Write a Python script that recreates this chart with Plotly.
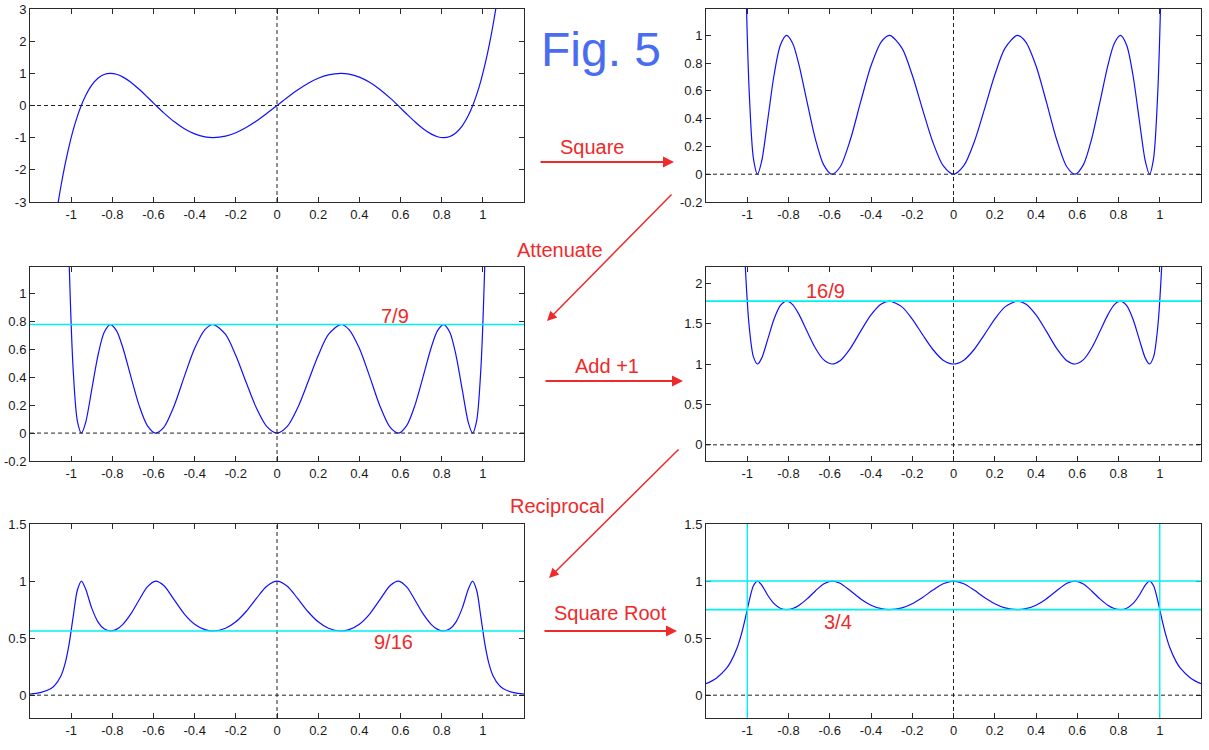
import plotly.graph_objects as go

# ---------------- data ----------------
X = [-1.2, -1.15, -1.1, -1.08, -1.05, -1.03, -1.01, -0.99, -0.97, -0.95, -0.93, -0.9,
     -0.87, -0.84, -0.81, -0.78, -0.75, -0.71, -0.67, -0.63, -0.59, -0.55, -0.5, -0.45,
     -0.4, -0.35, -0.31, -0.25, -0.2, -0.15, -0.1, -0.05, 0,
     0.05, 0.1, 0.15, 0.2, 0.25, 0.31, 0.35, 0.4, 0.45, 0.5, 0.55, 0.59, 0.63, 0.67,
     0.71, 0.75, 0.78, 0.81, 0.84, 0.87, 0.9, 0.93, 0.95, 0.97, 0.99, 1.01, 1.03, 1.05,
     1.08, 1.1, 1.15, 1.2]

# panel 1: original polynomial
Y_POLY = [-11.2483, -7.5142, -4.6482, -3.715, -2.518, -1.8438, -1.2601, -0.7599, -0.3363,
          0.017, 0.3061, 0.6322, 0.8453, 0.9627, 0.9997, 0.9716, 0.8906, 0.7215, 0.505,
          0.263, 0.0137, -0.2278, -0.5, -0.7228, -0.8838, -0.9765, -1.0, -0.9531, -0.8451,
          -0.6837, -0.4802, -0.2475, 0,
          0.2475, 0.4802, 0.6837, 0.8451, 0.9531, 1.0, 0.9765, 0.8838, 0.7228, 0.5, 0.2278,
          -0.0137, -0.263, -0.505, -0.7215, -0.8906, -0.9716, -0.9997, -0.9627, -0.8453,
          -0.6322, -0.3061, -0.017, 0.3363, 0.7599, 1.2601, 1.8438, 2.518, 3.715, 4.6482,
          7.5142, 11.2483]

# panel 2: square
Y_SQUARE = [126.52, 56.46, 21.61, 13.80, 6.3403, 3.3996, 1.5879, 0.5775, 0.1131, 0.0003,
            0.0937, 0.3997, 0.7145, 0.9268, 0.9994, 0.944, 0.7932, 0.5206, 0.255, 0.0692,
            0.0002, 0.0519, 0.25, 0.5224, 0.7811, 0.9536, 1.0, 0.9084, 0.7142, 0.4675,
            0.2306, 0.0613, 0,
            0.0613, 0.2306, 0.4675, 0.7142, 0.9084, 1.0, 0.9536, 0.7811, 0.5224, 0.25,
            0.0519, 0.0002, 0.0692, 0.255, 0.5206, 0.7932, 0.944, 0.9994, 0.9268, 0.7145,
            0.3997, 0.0937, 0.0003, 0.1131, 0.5775, 1.5879, 3.3996, 6.3403, 13.80, 21.61,
            56.46, 126.52]

# panel 3: attenuated
Y_ATTEN = [98.40, 43.91, 16.81, 10.73, 4.9314, 2.6441, 1.235, 0.4491, 0.088, 0.0002, 0.0729,
           0.3109, 0.5558, 0.7208, 0.7773, 0.7342, 0.6169, 0.4049, 0.1984, 0.0538, 0.0002,
           0.0404, 0.1944, 0.4063, 0.6075, 0.7417, 0.7778, 0.7065, 0.5555, 0.3636, 0.1794,
           0.0477, 0,
           0.0477, 0.1794, 0.3636, 0.5555, 0.7065, 0.7778, 0.7417, 0.6075, 0.4063, 0.1944,
           0.0404, 0.0002, 0.0538, 0.1984, 0.4049, 0.6169, 0.7342, 0.7773, 0.7208, 0.5558,
           0.3109, 0.0729, 0.0002, 0.088, 0.4491, 1.235, 2.6441, 4.9314, 10.73, 16.81,
           43.91, 98.40]

# panel 4: add +1
Y_ADD1 = [99.40, 44.91, 17.81, 11.73, 5.9314, 3.6441, 2.235, 1.4491, 1.088, 1.0002, 1.0729,
          1.3109, 1.5558, 1.7208, 1.7773, 1.7342, 1.6169, 1.4049, 1.1984, 1.0538, 1.0002,
          1.0404, 1.1944, 1.4063, 1.6075, 1.7417, 1.7778, 1.7065, 1.5555, 1.3636, 1.1794,
          1.0477, 1,
          1.0477, 1.1794, 1.3636, 1.5555, 1.7065, 1.7778, 1.7417, 1.6075, 1.4063, 1.1944,
          1.0404, 1.0002, 1.0538, 1.1984, 1.4049, 1.6169, 1.7342, 1.7773, 1.7208, 1.5558,
          1.3109, 1.0729, 1.0002, 1.088, 1.4491, 2.235, 3.6441, 5.9314, 11.73, 17.81,
          44.91, 99.40]

# panel 5: reciprocal
Y_RECIP = [0.0101, 0.0223, 0.0562, 0.0853, 0.1686, 0.2744, 0.4474, 0.6901, 0.9191, 0.9998,
           0.9321, 0.7629, 0.6428, 0.5811, 0.5627, 0.5766, 0.6185, 0.7118, 0.8345, 0.949,
           0.9999, 0.9612, 0.8372, 0.7111, 0.6221, 0.5742, 0.5625, 0.586, 0.6429, 0.7334,
           0.8479, 0.9545, 1,
           0.9545, 0.8479, 0.7334, 0.6429, 0.586, 0.5625, 0.5742, 0.6221, 0.7111, 0.8372,
           0.9612, 0.9999, 0.949, 0.8345, 0.7118, 0.6185, 0.5766, 0.5627, 0.5811, 0.6428,
           0.7629, 0.9321, 0.9998, 0.9191, 0.6901, 0.4474, 0.2744, 0.1686, 0.0853, 0.0562,
           0.0223, 0.0101]

# panel 6: square root
Y_SQRT = [0.1003, 0.1492, 0.237, 0.292, 0.4106, 0.5238, 0.6689, 0.8307, 0.9587, 0.9999,
          0.9654, 0.8734, 0.8017, 0.7623, 0.7501, 0.7594, 0.7864, 0.8437, 0.9135, 0.9741,
          0.9999, 0.9804, 0.915, 0.8433, 0.7887, 0.7577, 0.75, 0.7655, 0.8018, 0.8564,
          0.9208, 0.977, 1,
          0.977, 0.9208, 0.8564, 0.8018, 0.7655, 0.75, 0.7577, 0.7887, 0.8433, 0.915,
          0.9804, 0.9999, 0.9741, 0.9135, 0.8437, 0.7864, 0.7594, 0.7501, 0.7623, 0.8017,
          0.8734, 0.9654, 0.9999, 0.9587, 0.8307, 0.6689, 0.5238, 0.4106, 0.292, 0.237,
          0.1492, 0.1003]

X_TICKS = [-1, -0.8, -0.6, -0.4, -0.2, 0, 0.2, 0.4, 0.6, 0.8, 1]
X_TICK_TEXT = ["-1", "-0.8", "-0.6", "-0.4", "-0.2", "0", "0.2", "0.4", "0.6", "0.8", "1"]

Y_TICKS_1 = [-3, -2, -1, 0, 1, 2, 3]
Y_TICK_TEXT_1 = ["-3", "-2", "-1", "0", "1", "2", "3"]
Y_TICKS_2 = [-0.2, 0, 0.2, 0.4, 0.6, 0.8, 1]
Y_TICK_TEXT_2 = ["-0.2", "0", "0.2", "0.4", "0.6", "0.8", "1"]
Y_TICKS_4 = [0, 0.5, 1, 1.5, 2]
Y_TICK_TEXT_4 = ["0", "0.5", "1", "1.5", "2"]
Y_TICKS_5 = [0, 0.5, 1, 1.5]
Y_TICK_TEXT_5 = ["0", "0.5", "1", "1.5"]

# cyan reference levels per panel
CYAN_H = {3: [7 / 9], 4: [16 / 9], 5: [9 / 16], 6: [1.0, 0.75]}
CYAN_V = {6: [-1.0, 1.0]}

# ---------------- layout ----------------
W, H = 1209, 750
COL_X = [(30, 524), (706, 1201)]
ROW_Y = [(9, 202), (267, 461), (524, 718)]

panels = [
    dict(y=Y_POLY, row=0, col=0, yr=[-3, 3], yt=Y_TICKS_1, ytt=Y_TICK_TEXT_1),
    dict(y=Y_SQUARE, row=0, col=1, yr=[-0.2, 1.19], yt=Y_TICKS_2, ytt=Y_TICK_TEXT_2),
    dict(y=Y_ATTEN, row=1, col=0, yr=[-0.2, 1.19], yt=Y_TICKS_2, ytt=Y_TICK_TEXT_2),
    dict(y=Y_ADD1, row=1, col=1, yr=[-0.2, 2.2], yt=Y_TICKS_4, ytt=Y_TICK_TEXT_4),
    dict(y=Y_RECIP, row=2, col=0, yr=[-0.2, 1.5], yt=Y_TICKS_5, ytt=Y_TICK_TEXT_5),
    dict(y=Y_SQRT, row=2, col=1, yr=[-0.2, 1.5], yt=Y_TICKS_5, ytt=Y_TICK_TEXT_5),
]

FONT = "Liberation Sans, Arial, sans-serif"
AX_COLOR = "#2a2a2a"
RED = "#ee2a2a"
CYAN = "#00f0f0"

fig = go.Figure()
layout = dict(
    width=W, height=H, margin=dict(l=0, r=0, t=0, b=0, autoexpand=False),
    paper_bgcolor="white", plot_bgcolor="white", showlegend=False,
)
shapes = []
annotations = []

for i, p in enumerate(panels, start=1):
    xs = "" if i == 1 else str(i)
    x0, x1 = COL_X[p["col"]]
    ytop, ybot = ROW_Y[p["row"]]
    common = dict(
        ticks="inside", ticklen=5, tickcolor=AX_COLOR, tickwidth=1,
        showline=True, linecolor=AX_COLOR, linewidth=1, mirror="ticks",
        showgrid=False, zeroline=False, automargin=False,
        tickfont=dict(family=FONT, size=13, color="#1a1a1a"),
    )
    layout["xaxis" + xs] = dict(
        domain=[x0 / W, x1 / W], range=[-1.2, 1.2], tickvals=X_TICKS,
        ticktext=X_TICK_TEXT, anchor="y" + xs, **common)
    layout["yaxis" + xs] = dict(
        domain=[1 - ybot / H, 1 - ytop / H], range=p["yr"], tickvals=p["yt"],
        ticktext=p["ytt"], anchor="x" + xs, **common)

    xr, yr = "x" + xs, "y" + xs
    # dashed zero axes
    shapes.append(dict(type="line", xref=xr + " domain", yref=yr, x0=0, x1=1, y0=0, y1=0,
                       line=dict(color="#222222", width=1, dash="4px,3px")))
    shapes.append(dict(type="line", xref=xr, yref=yr + " domain", x0=0, x1=0, y0=0, y1=1,
                       line=dict(color="#222222", width=1, dash="4px,3px")))
    for lv in CYAN_H.get(i, []):
        shapes.append(dict(type="line", xref=xr + " domain", yref=yr, x0=0, x1=1,
                           y0=lv, y1=lv, line=dict(color=CYAN, width=1.6)))
    for lv in CYAN_V.get(i, []):
        shapes.append(dict(type="line", xref=xr, yref=yr + " domain", x0=lv, x1=lv,
                           y0=0, y1=1, line=dict(color=CYAN, width=1.4)))

    fig.add_trace(go.Scatter(
        x=X, y=p["y"], mode="lines", xaxis=xr, yaxis=yr, hoverinfo="skip",
        line=dict(color="#1010ff", width=1.2, shape="spline", smoothing=0.8)))


def px(xp, yp):
    return xp / W, 1 - yp / H


# title
fx, fy = px(601, 49)
annotations.append(dict(xref="paper", yref="paper", x=fx, y=fy, text="Fig. 5",
                        xanchor="center", yanchor="middle", showarrow=False,
                        font=dict(family=FONT, size=48, color="#4a6cf0")))

# red labels
for txt, (tx, ty) in [("Square", (592, 147)), ("Attenuate", (560, 250)),
                      ("Add +1", (607, 366)), ("Reciprocal", (557, 506)),
                      ("Square Root", (610, 613)), ("7/9", (395, 316)),
                      ("16/9", (825, 291)), ("9/16", (393, 642)), ("3/4", (838, 622))]:
    ax_, ay_ = px(tx, ty)
    annotations.append(dict(xref="paper", yref="paper", x=ax_, y=ay_, text=txt,
                            xanchor="center", yanchor="middle", showarrow=False,
                            font=dict(family=FONT, size=20, color=RED)))

# red arrows: (tail, head, width)
for (tx, ty), (hx, hy), w in [((539, 162), (674, 162), 2.2),
                              ((673, 193), (547, 321), 1.5),
                              ((544, 381), (683, 381), 2.2),
                              ((680, 448), (549, 578), 1.5),
                              ((543, 631), (677, 631), 2.2)]:
    hxp, hyp = px(hx, hy)
    annotations.append(dict(xref="paper", yref="paper", x=hxp, y=hyp, text="",
                            showarrow=True, ax=tx - hx, ay=ty - hy, arrowhead=2,
                            arrowsize=1.3 if w < 2 else 1.0, arrowwidth=w,
                            arrowcolor=RED, standoff=0))

layout["shapes"] = shapes
layout["annotations"] = annotations
fig.update_layout(**layout)
fig.write_html("out.html")
